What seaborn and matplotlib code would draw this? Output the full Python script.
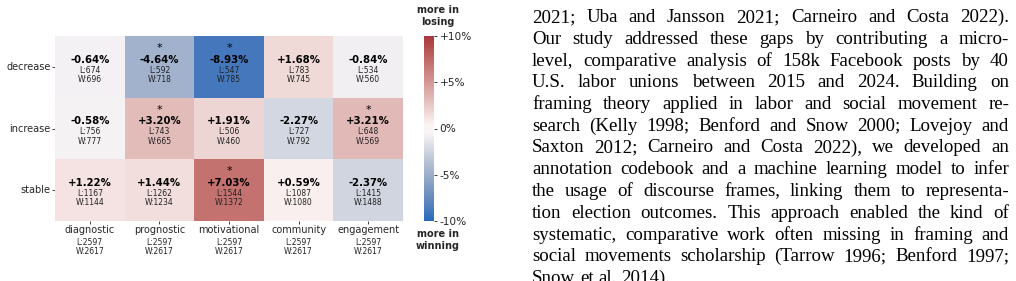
import matplotlib
matplotlib.use("Agg")
import matplotlib.pyplot as plt
import seaborn as sns
import pandas as pd

# heatmap data
frames = ["diagnostic", "prognostic", "motivational", "community", "engagement"]
trends = ["decrease", "increase", "stable"]

diff_pct = [
    [-0.64, -4.64, -8.93, 1.68, -0.84],
    [-0.58, 3.20, 1.91, -2.27, 3.21],
    [1.22, 1.44, 7.03, 0.59, -2.37],
]
significant = [
    [False, True, True, False, False],
    [False, True, False, False, True],
    [False, False, True, False, False],
]
n_losing = [
    [674, 592, 547, 783, 534],
    [756, 743, 506, 727, 648],
    [1167, 1262, 1544, 1087, 1415],
]
n_winning = [
    [696, 718, 785, 745, 560],
    [777, 665, 460, 792, 569],
    [1144, 1234, 1372, 1080, 1488],
]
total_losing = [2597, 2597, 2597, 2597, 2597]
total_winning = [2617, 2617, 2617, 2617, 2617]

cbar_ticks = [-10, -5, 0, 5, 10]
cbar_labels = ["-10%", "-5%", "0%", "+5%", "+10%"]

para_lines = [
    "2021; Uba and Jansson 2021; Carneiro and Costa 2022).",
    "Our study addressed these gaps by contributing a micro-",
    "level, comparative analysis of 158k Facebook posts by 40",
    "U.S. labor unions between 2015 and 2024. Building on",
    "framing theory applied in labor and social movement re-",
    "search (Kelly 1998; Benford and Snow 2000; Lovejoy and",
    "Saxton 2012; Carneiro and Costa 2022), we developed an",
    "annotation codebook and a machine learning model to infer",
    "the usage of discourse frames, linking them to representa-",
    "tion election outcomes. This approach enabled the kind of",
    "systematic, comparative work often missing in framing and",
    "social movements scholarship (Tarrow 1996; Benford 1997;",
    "Snow et al. 2014).",
]

sns.set_theme(style="ticks")
plt.rcParams.update({
    "font.family": ["DejaVu Sans"],
    "xtick.major.size": 2,
    "ytick.major.size": 2,
    "xtick.major.width": 0.6,
    "ytick.major.width": 0.6,
    "xtick.major.pad": 1,
    "ytick.major.pad": 1.2,
})

W, H = 1016, 281
fig = plt.figure(figsize=(W / 100, H / 100), dpi=100)
ax = fig.add_axes([55 / W, 1 - 221 / H, 348 / W, 185 / H])
cax = fig.add_axes([424 / W, 1 - 221 / H, 10 / W, 185 / H])

df = pd.DataFrame(diff_pct, index=trends, columns=frames)
sns.heatmap(df, ax=ax, cbar_ax=cax, cmap="vlag", vmin=-10, vmax=10,
            linewidths=0)

ax.set_xticklabels(frames, rotation=0, fontsize=7)
ax.set_yticklabels(trends, rotation=0, fontsize=7)
ax.set_xlabel("")
ax.set_ylabel("")

for i in range(len(trends)):
    for j in range(len(frames)):
        cx, cy = j + 0.5, i + 0.5
        v = diff_pct[i][j]
        if significant[i][j]:
            ax.annotate("*", (cx, cy), xytext=(0, 19), textcoords="offset pixels",
                        ha="center", va="center", fontsize=8, color="black")
        ax.annotate(f"{v:+.2f}%", (cx, cy), xytext=(0, 7), textcoords="offset pixels",
                    ha="center", va="center", fontsize=7.3, fontweight="bold",
                    color="black")
        ax.annotate(f"L:{n_losing[i][j]}\nW:{n_winning[i][j]}", (cx, cy),
                    xytext=(0, -8), textcoords="offset pixels",
                    ha="center", va="center", fontsize=5.5, color="#222222",
                    linespacing=1.0)

for j in range(len(frames)):
    ax.annotate(f"L:{total_losing[j]}\nW:{total_winning[j]}", (j + 0.5, 3),
                xytext=(0, -26), textcoords="offset pixels",
                ha="center", va="center", fontsize=5.5, color="#222222",
                linespacing=1.0, annotation_clip=False)

cbar = ax.collections[0].colorbar
cbar.set_ticks(cbar_ticks)
cbar.set_ticklabels(cbar_labels)
cbar.ax.tick_params(labelsize=7.6, length=2, width=0.6, pad=2)
cbar.outline.set_visible(False)

fig.text(438 / W, 1 - 16 / H, "more in\nlosing", ha="center", va="center",
         fontsize=7, fontweight="bold", linespacing=1.2)
fig.text(438 / W, 1 - 240 / H, "more in\nwinning", ha="center", va="center",
         fontsize=7, fontweight="bold", linespacing=1.2)

# justified paragraph on the right
renderer = fig.canvas.get_renderer()
x0, x1 = 532, 1009
serif = "Liberation Serif"
size = 13.6

for i, line in enumerate(para_lines):
    y = 22 + i * 21.75
    words = line.split(" ")
    objs = [fig.text(0, 1 - y / H, w, fontsize=size, family=serif,
                     va="baseline", ha="left", color="black") for w in words]
    widths = [o.get_window_extent(renderer).width for o in objs]
    if i < len(para_lines) - 1:
        gap = (x1 - x0 - sum(widths)) / (len(words) - 1)
    else:
        gap = size * 100 / 72 * 0.25
    x = x0
    for o, wd in zip(objs, widths):
        o.set_x(x / W)
        x += wd + gap

fig.savefig("out.png", dpi=100)
